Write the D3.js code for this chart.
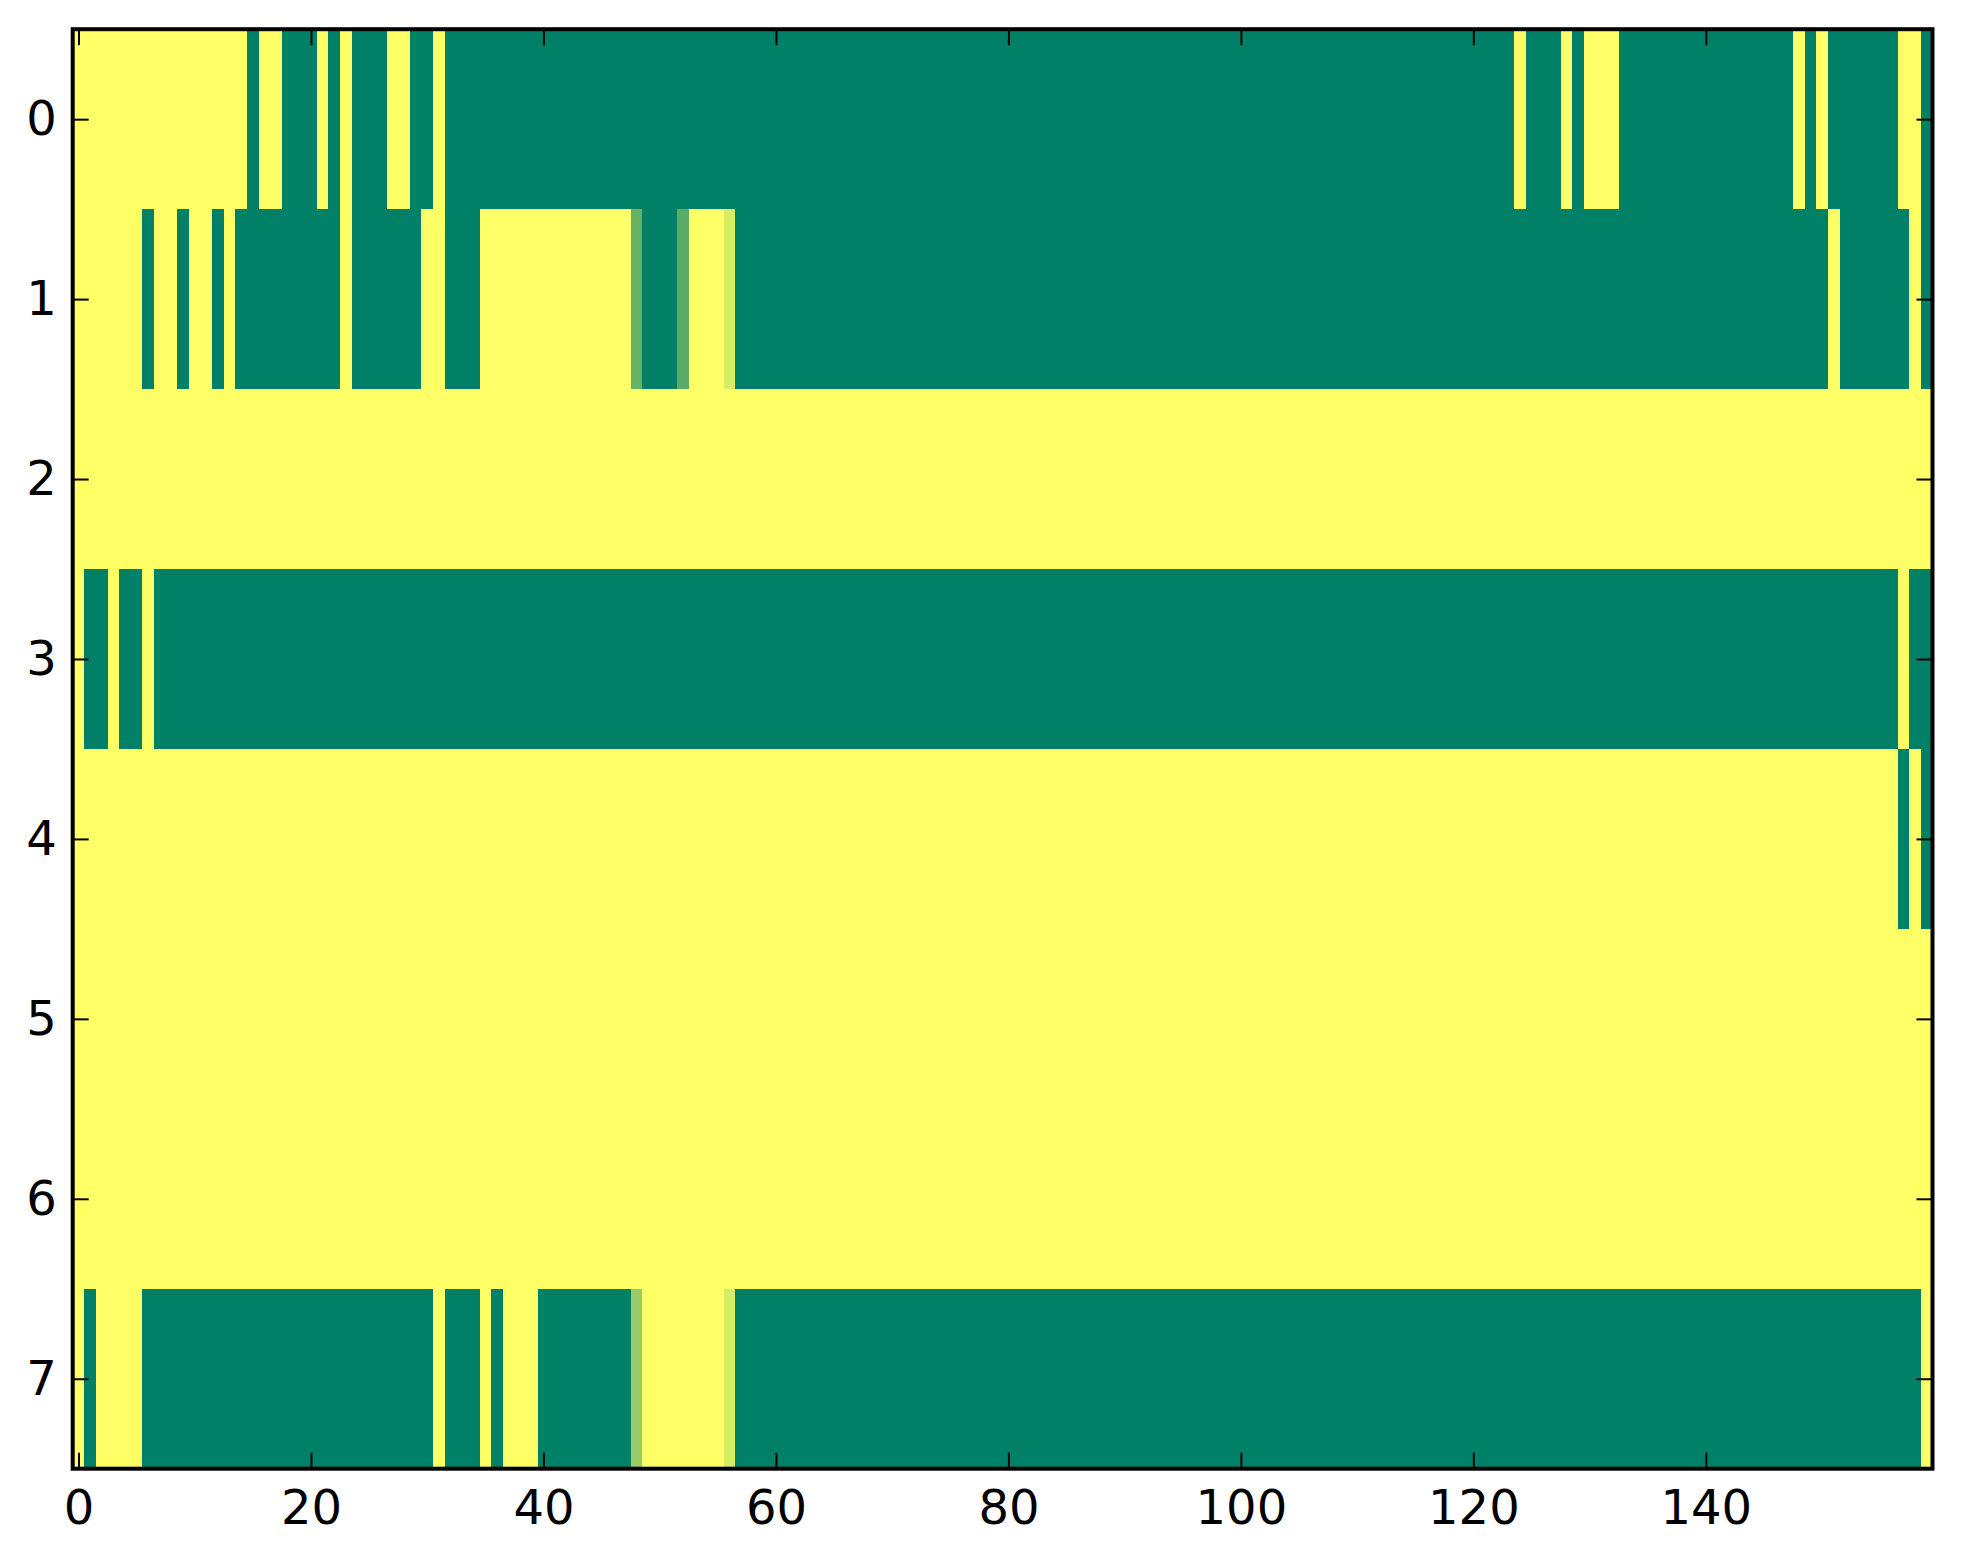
<!DOCTYPE html>
<html>
<head>
<meta charset="utf-8">
<style>
  body { margin: 0; background: #ffffff; }
  svg text { font-family: "DejaVu Sans", sans-serif; font-size: 48px; fill: #000; }
</style>
<script src="https://d3js.org/d3.v7.min.js"></script>
</head>
<body>
<svg id="chart"></svg>
<script>
// cell values, 0 = green end, 1 = yellow end of the colormap
var row0 = [
  1,1,1,1,1,1,1,1,1,1,1,1,1,1,1,0,1,1,0,0,
  0,1,0,1,0,0,0,1,1,0,0,1,0,0,0,0,0,0,0,0,
  0,0,0,0,0,0,0,0,0,0,0,0,0,0,0,0,0,0,0,0,
  0,0,0,0,0,0,0,0,0,0,0,0,0,0,0,0,0,0,0,0,
  0,0,0,0,0,0,0,0,0,0,0,0,0,0,0,0,0,0,0,0,
  0,0,0,0,0,0,0,0,0,0,0,0,0,0,0,0,0,0,0,0,
  0,0,0,0,1,0,0,0,1,0,1,1,1,0,0,0,0,0,0,0,
  0,0,0,0,0,0,0,0,1,0,1,0,0,0,0,0,0,1,1,0
];
var row1 = [
  1,1,1,1,1,1,0,1,1,0,1,1,0,1,0,0,0,0,0,0,
  0,0,0,1,0,0,0,0,0,0,1,1,0,0,0,1,1,1,1,1,
  1,1,1,1,1,1,1,1,0.4,0,0,0,0.35,1,1,1,0.85,0,0,0,
  0,0,0,0,0,0,0,0,0,0,0,0,0,0,0,0,0,0,0,0,
  0,0,0,0,0,0,0,0,0,0,0,0,0,0,0,0,0,0,0,0,
  0,0,0,0,0,0,0,0,0,0,0,0,0,0,0,0,0,0,0,0,
  0,0,0,0,0,0,0,0,0,0,0,0,0,0,0,0,0,0,0,0,
  0,0,0,0,0,0,0,0,0,0,0,1,0,0,0,0,0,0,1,0
];
var row2 = [
  1,1,1,1,1,1,1,1,1,1,1,1,1,1,1,1,1,1,1,1,
  1,1,1,1,1,1,1,1,1,1,1,1,1,1,1,1,1,1,1,1,
  1,1,1,1,1,1,1,1,1,1,1,1,1,1,1,1,1,1,1,1,
  1,1,1,1,1,1,1,1,1,1,1,1,1,1,1,1,1,1,1,1,
  1,1,1,1,1,1,1,1,1,1,1,1,1,1,1,1,1,1,1,1,
  1,1,1,1,1,1,1,1,1,1,1,1,1,1,1,1,1,1,1,1,
  1,1,1,1,1,1,1,1,1,1,1,1,1,1,1,1,1,1,1,1,
  1,1,1,1,1,1,1,1,1,1,1,1,1,1,1,1,1,1,1,1
];
var row3 = [
  1,0,0,1,0,0,1,0,0,0,0,0,0,0,0,0,0,0,0,0,
  0,0,0,0,0,0,0,0,0,0,0,0,0,0,0,0,0,0,0,0,
  0,0,0,0,0,0,0,0,0,0,0,0,0,0,0,0,0,0,0,0,
  0,0,0,0,0,0,0,0,0,0,0,0,0,0,0,0,0,0,0,0,
  0,0,0,0,0,0,0,0,0,0,0,0,0,0,0,0,0,0,0,0,
  0,0,0,0,0,0,0,0,0,0,0,0,0,0,0,0,0,0,0,0,
  0,0,0,0,0,0,0,0,0,0,0,0,0,0,0,0,0,0,0,0,
  0,0,0,0,0,0,0,0,0,0,0,0,0,0,0,0,0,1,0,0
];
var row4 = [
  1,1,1,1,1,1,1,1,1,1,1,1,1,1,1,1,1,1,1,1,
  1,1,1,1,1,1,1,1,1,1,1,1,1,1,1,1,1,1,1,1,
  1,1,1,1,1,1,1,1,1,1,1,1,1,1,1,1,1,1,1,1,
  1,1,1,1,1,1,1,1,1,1,1,1,1,1,1,1,1,1,1,1,
  1,1,1,1,1,1,1,1,1,1,1,1,1,1,1,1,1,1,1,1,
  1,1,1,1,1,1,1,1,1,1,1,1,1,1,1,1,1,1,1,1,
  1,1,1,1,1,1,1,1,1,1,1,1,1,1,1,1,1,1,1,1,
  1,1,1,1,1,1,1,1,1,1,1,1,1,1,1,1,1,0,1,0
];
var row5 = [
  1,1,1,1,1,1,1,1,1,1,1,1,1,1,1,1,1,1,1,1,
  1,1,1,1,1,1,1,1,1,1,1,1,1,1,1,1,1,1,1,1,
  1,1,1,1,1,1,1,1,1,1,1,1,1,1,1,1,1,1,1,1,
  1,1,1,1,1,1,1,1,1,1,1,1,1,1,1,1,1,1,1,1,
  1,1,1,1,1,1,1,1,1,1,1,1,1,1,1,1,1,1,1,1,
  1,1,1,1,1,1,1,1,1,1,1,1,1,1,1,1,1,1,1,1,
  1,1,1,1,1,1,1,1,1,1,1,1,1,1,1,1,1,1,1,1,
  1,1,1,1,1,1,1,1,1,1,1,1,1,1,1,1,1,1,1,1
];
var row6 = [
  1,1,1,1,1,1,1,1,1,1,1,1,1,1,1,1,1,1,1,1,
  1,1,1,1,1,1,1,1,1,1,1,1,1,1,1,1,1,1,1,1,
  1,1,1,1,1,1,1,1,1,1,1,1,1,1,1,1,1,1,1,1,
  1,1,1,1,1,1,1,1,1,1,1,1,1,1,1,1,1,1,1,1,
  1,1,1,1,1,1,1,1,1,1,1,1,1,1,1,1,1,1,1,1,
  1,1,1,1,1,1,1,1,1,1,1,1,1,1,1,1,1,1,1,1,
  1,1,1,1,1,1,1,1,1,1,1,1,1,1,1,1,1,1,1,1,
  1,1,1,1,1,1,1,1,1,1,1,1,1,1,1,1,1,1,1,1
];
var row7 = [
  1,0,1,1,1,1,0,0,0,0,0,0,0,0,0,0,0,0,0,0,
  0,0,0,0,0,0,0,0,0,0,0,1,0,0,0,1,0,1,1,1,
  0,0,0,0,0,0,0,0,0.6,1,1,1,1,1,1,1,0.85,0,0,0,
  0,0,0,0,0,0,0,0,0,0,0,0,0,0,0,0,0,0,0,0,
  0,0,0,0,0,0,0,0,0,0,0,0,0,0,0,0,0,0,0,0,
  0,0,0,0,0,0,0,0,0,0,0,0,0,0,0,0,0,0,0,0,
  0,0,0,0,0,0,0,0,0,0,0,0,0,0,0,0,0,0,0,0,
  0,0,0,0,0,0,0,0,0,0,0,0,0,0,0,0,0,0,0,1
];
var rows = [row0, row1, row2, row3, row4, row5, row6, row7];
var xTicks = [0, 20, 40, 60, 80, 100, 120, 140];
var yTicks = [0, 1, 2, 3, 4, 5, 6, 7];

var svgWidth = 1963, svgHeight = 1564;
var plotLeft = 72.7, plotTop = 29.2, plotRight = 1932.5, plotBottom = 1468.7;
var width = plotRight - plotLeft, height = plotBottom - plotTop;
var nCols = row0.length, nRows = rows.length;

var svg = d3.select("#chart")
  .attr("width", svgWidth)
  .attr("height", svgHeight);

var g = svg.append("g")
  .attr("transform", "translate(" + plotLeft + "," + plotTop + ")");

var x = d3.scaleLinear().domain([-0.5, nCols - 0.5]).range([0, width]);
var y = d3.scaleLinear().domain([-0.5, nRows - 0.5]).range([0, height]);
// matplotlib "summer" colormap
var color = d3.scaleLinear().domain([0, 1]).range(["#008066", "#ffff66"]).interpolate(d3.interpolateRgb);

var cells = [];
rows.forEach(function(r, ri) {
  r.forEach(function(v, ci) {
    cells.push({ row: ri, col: ci, value: v });
  });
});

g.append("g")
  .attr("shape-rendering", "crispEdges")
  .selectAll("rect")
  .data(cells)
  .enter()
  .append("rect")
  .attr("x", function(d) { return x(d.col - 0.5); })
  .attr("y", function(d) { return y(d.row - 0.5); })
  .attr("width", function(d) { return d.col === nCols - 1 ? x(1) - x(0) : x(1) - x(0) + 0.6; })
  .attr("height", function(d) { return d.row === nRows - 1 ? y(1) - y(0) : y(1) - y(0) + 0.6; })
  .attr("fill", function(d) { return color(d.value); });

// ticks point inward on all four sides
var tickLen = 16;
var xb = g.append("g")
  .attr("transform", "translate(0," + height + ")")
  .call(d3.axisBottom(x).tickValues(xTicks).tickSize(-tickLen).tickPadding(21).tickFormat(d3.format("d")));
var xt = g.append("g")
  .call(d3.axisTop(x).tickValues(xTicks).tickSize(-tickLen).tickFormat(""));
var yl = g.append("g")
  .call(d3.axisLeft(y).tickValues(yTicks).tickSize(-tickLen).tickPadding(16).tickFormat(d3.format("d")));
var yr = g.append("g")
  .attr("transform", "translate(" + width + ",0)")
  .call(d3.axisRight(y).tickValues(yTicks).tickSize(-tickLen).tickFormat(""));

[xb, xt, yl, yr].forEach(function(a) {
  a.attr("font-size", null).attr("font-family", null);
  a.select(".domain").remove();
  a.selectAll(".tick line").attr("stroke", "#000").attr("stroke-width", 2);
  a.selectAll("text").attr("fill", "#000");
});

g.append("rect")
  .attr("x", 0)
  .attr("y", 0)
  .attr("width", width)
  .attr("height", height)
  .attr("fill", "none")
  .attr("stroke", "#000")
  .attr("stroke-width", 4);
</script>
</body>
</html>
